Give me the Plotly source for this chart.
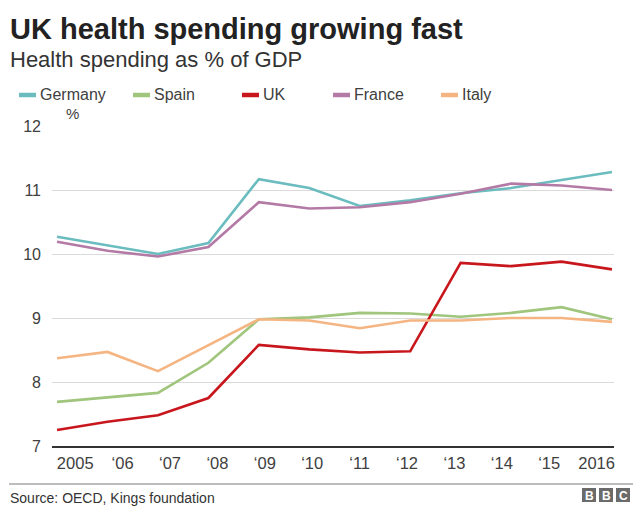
import plotly.graph_objects as go

years = [2005, 2006, 2007, 2008, 2009, 2010, 2011, 2012, 2013, 2014, 2015, 2016]
tick_labels = ["2005", "‘06", "‘07", "‘08", "‘09", "‘10", "‘11", "‘12", "‘13", "‘14", "‘15", "2016"]
y_ticks = [7, 8, 9, 10, 11, 12]

germany = [10.27, 10.13, 10.0, 10.17, 11.17, 11.03, 10.75, 10.84, 10.95, 11.03, 11.15, 11.28]
spain = [7.69, 7.76, 7.83, 8.3, 8.98, 9.01, 9.08, 9.07, 9.02, 9.08, 9.17, 8.98]
uk = [7.25, 7.38, 7.48, 7.75, 8.58, 8.51, 8.46, 8.48, 9.86, 9.81, 9.88, 9.76]
france = [10.19, 10.05, 9.96, 10.11, 10.81, 10.71, 10.73, 10.81, 10.94, 11.1, 11.07, 11.0]
italy = [8.37, 8.47, 8.17, 8.58, 8.98, 8.96, 8.84, 8.96, 8.96, 9.0, 9.0, 8.94]

series_names = ["Germany", "Spain", "UK", "France", "Italy"]
series_values = [germany, spain, uk, france, italy]
series_colors = ["#6bbcbf", "#a0c57c", "#c8161d", "#b47aa6", "#f5b583"]

W, H = 640, 519
L, R, T, B = 52, 26, 126, 73
PW, PH = W - L - R, H - T - B
FONT = "Liberation Sans, Arial, Helvetica, sans-serif"
TXT = "#404040"


def px(x):
    return (x - L) / PW


def py(y):
    return 1 - (y - T) / PH


fig = go.Figure()
for name, vals, col in zip(series_names, series_values, series_colors):
    fig.add_trace(go.Scatter(x=years, y=vals, mode="lines", name=name,
                             line=dict(color=col, width=2.6), showlegend=False))

# tick labels in the original are spaced a little tighter than the data points
label_start = years[0] + 0.36
label_step = 0.9396
label_pos = [label_start + i * label_step for i in range(len(tick_labels))]

annotations = [
    dict(text="<b>UK health spending growing fast</b>", x=px(8), y=py(47), xanchor="left", yanchor="bottom",
         font=dict(size=29, color="#222222", family=FONT)),
    dict(text="Health spending as % of GDP", x=px(8), y=py(74), xanchor="left", yanchor="bottom",
         font=dict(size=22, color="#333333", family=FONT)),
    dict(text="%", x=px(72), y=py(113), xanchor="center", yanchor="middle",
         font=dict(size=15, color=TXT, family=FONT)),
    dict(text="Source: OECD, Kings foundation", x=px(8), y=py(498), xanchor="left", yanchor="middle",
         font=dict(size=14, color="#333333", family=FONT)),
]
shapes = [
    dict(type="line", xref="paper", yref="paper", x0=px(9), x1=px(633), y0=py(484), y1=py(484),
         line=dict(color="#bdbdbd", width=2)),
]

# Legend (manual, to match swatch layout)
swatch_x = [19, 133, 242, 333, 441]
for name, col, sx in zip(series_names, series_colors, swatch_x):
    shapes.append(dict(type="line", xref="paper", yref="paper", x0=px(sx), x1=px(sx + 17),
                       y0=py(95), y1=py(95), line=dict(color=col, width=4.5)))
    annotations.append(dict(text=name, x=px(sx + 19), y=py(95), xanchor="left", yanchor="middle",
                            font=dict(size=16, color=TXT, family=FONT)))

# BBC logo
for i, letter in enumerate(["B", "B", "C"]):
    x0 = 582 + i * 17
    shapes.append(dict(type="rect", xref="paper", yref="paper", x0=px(x0), x1=px(x0 + 14),
                       y0=py(502), y1=py(488), fillcolor="#6b6b6b", line=dict(width=0)))
    annotations.append(dict(text="<b>" + letter + "</b>", x=px(x0 + 7), y=py(495.5), xanchor="center",
                            yanchor="middle", font=dict(size=12, color="white", family=FONT)))

for a in annotations:
    a.update(xref="paper", yref="paper", showarrow=False)

fig.update_layout(
    width=W, height=H,
    margin=dict(l=L, r=R, t=T, b=B, pad=0),
    paper_bgcolor="white", plot_bgcolor="white",
    font=dict(family=FONT, color=TXT),
    annotations=annotations, shapes=shapes,
    xaxis=dict(range=[2004.9, 2016.04], showgrid=False, zeroline=False,
               tickmode="array", tickvals=label_pos, ticktext=tick_labels,
               showline=True, linecolor="#333333", linewidth=2, ticks="", ticklabelstandoff=1,
               tickfont=dict(size=16.5, color=TXT, family=FONT)),
    yaxis=dict(range=[7, 12], tickvals=y_ticks, showgrid=True, gridcolor="#dadada", gridwidth=1.2,
               zeroline=False, ticks="", ticklabelstandoff=10,
               tickfont=dict(size=16, color=TXT, family=FONT)),
    hovermode=False,
)

fig.write_html("out.html", config={"displayModeBar": False},
               post_script="document.body.style.margin='0';")
